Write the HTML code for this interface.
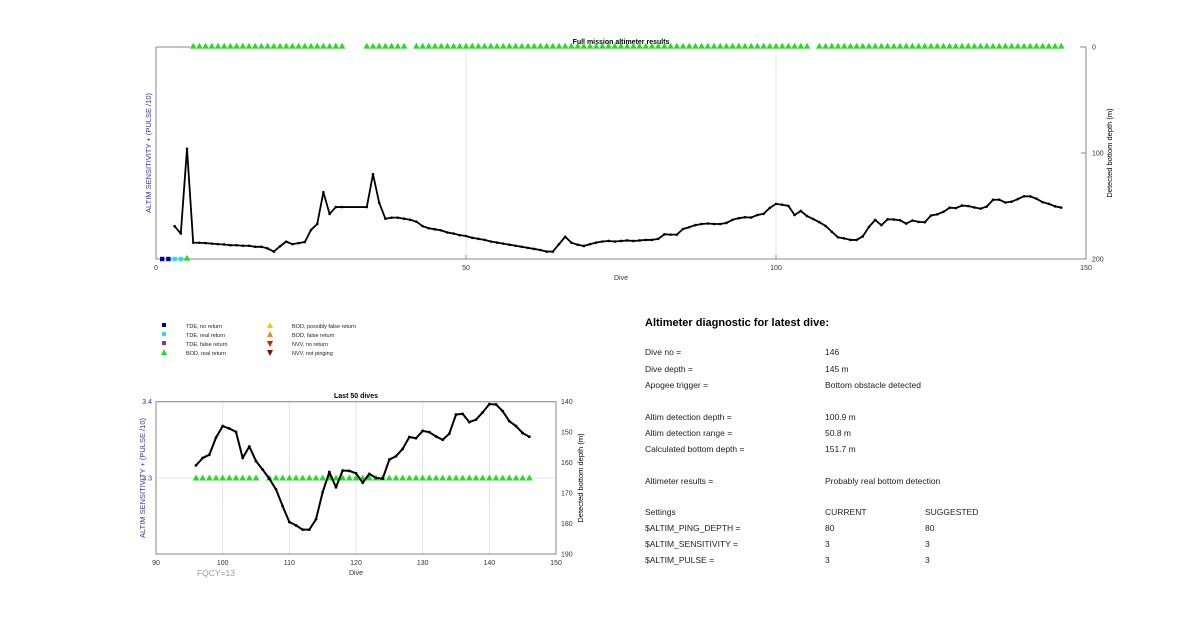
<!DOCTYPE html>
<html><head><meta charset="utf-8"><style>
body{margin:0;background:#fff;font-family:"Liberation Sans",Arial,sans-serif}
svg text{font-family:"Liberation Sans",Arial,sans-serif}
</style></head><body>
<svg id="s" width="1200" height="622" viewBox="0 0 1200 622" xmlns="http://www.w3.org/2000/svg">
<rect width="1200" height="622" fill="#fff"/>
<g id="topg">
  <text x="621" y="44" font-size="7" font-weight="bold" text-anchor="middle">Full mission altimeter results</text>
  <text transform="translate(151,153) rotate(-90)" font-size="7.5" fill="#3333aa" text-anchor="middle">ALTIM SENSITIVITY + (PULSE /10)</text>
  <text transform="translate(1112,153) rotate(-90)" font-size="7.5" text-anchor="middle">Detected bottom depth (m)</text>
  <text x="621" y="280" font-size="7" fill="#333" text-anchor="middle">Dive</text>
</g>
<g id="botg">
  <text x="356" y="398" font-size="7" font-weight="bold" text-anchor="middle">Last 50 dives</text>
  <text transform="translate(145,478) rotate(-90)" font-size="7.5" fill="#3333aa" text-anchor="middle">ALTIM SENSITIVITY + (PULSE /10)</text>
  <text transform="translate(583,478) rotate(-90)" font-size="7.5" text-anchor="middle">Detected bottom depth (m)</text>
  <text x="356" y="575" font-size="7" fill="#333" text-anchor="middle">Dive</text>
  <text x="216" y="576" font-size="8.5" fill="#999" text-anchor="middle">FQCY=13</text>
</g>
<g font-size="5.5" fill="#222">
  <rect x="162" y="323" width="4" height="4" fill="#0000b0"/>
  <text x="186" y="328">TDE, no return</text>
  <rect x="162" y="332" width="4" height="4" fill="#33dddd"/>
  <text x="186" y="337">TDE, real return</text>
  <rect x="162" y="341" width="4" height="4" fill="#7733bb"/>
  <text x="186" y="346">TDE, false return</text>
  <polygon points="164,349 161,355 167,355" fill="#22dd22"/>
  <text x="186" y="355">BOD, real return</text>
  <polygon points="270,322 267,328 273,328" fill="#eecc00"/>
  <text x="292" y="328">BOD, possibly false return</text>
  <polygon points="270,331 267,337 273,337" fill="#e09020"/>
  <text x="292" y="337">BOD, false return</text>
  <polygon points="267,341 273,341 270,347" fill="#cc2200"/>
  <text x="292" y="346">NVV, no return</text>
  <polygon points="267,350 273,350 270,356" fill="#771100"/>
  <text x="292" y="355">NVV, not pinging</text>
</g>
<g font-size="8.5" fill="#222">
  <text x="645" y="326" font-size="11" font-weight="bold" fill="#000">Altimeter diagnostic for latest dive:</text>
  <text x="645" y="355">Dive no =</text><text x="825" y="355">146</text>
  <text x="645" y="372">Dive depth =</text><text x="825" y="372">145 m</text>
  <text x="645" y="388">Apogee trigger =</text><text x="825" y="388">Bottom obstacle detected</text>
  <text x="645" y="420">Altim detection depth =</text><text x="825" y="420">100.9 m</text>
  <text x="645" y="436">Altim detection range =</text><text x="825" y="436">50.8 m</text>
  <text x="645" y="452">Calculated bottom depth =</text><text x="825" y="452">151.7 m</text>
  <text x="645" y="484">Altimeter results =</text><text x="825" y="484">Probably real bottom detection</text>
  <text x="645" y="515">Settings</text><text x="825" y="515">CURRENT</text><text x="925" y="515">SUGGESTED</text>
  <text x="645" y="531">$ALTIM_PING_DEPTH =</text><text x="825" y="531">80</text><text x="925" y="531">80</text>
  <text x="645" y="547">$ALTIM_SENSITIVITY =</text><text x="825" y="547">3</text><text x="925" y="547">3</text>
  <text x="645" y="563">$ALTIM_PULSE =</text><text x="825" y="563">3</text><text x="925" y="563">3</text>
</g>
</svg>
<script>
const dives = [3,4,5,6,7,8,9,10,11,12,13,14,15,16,17,18,19,20,21,22,23,24,25,26,27,28,29,30,34,35,36,37,38,39,40,41,42,43,44,45,46,47,48,49,50,51,52,53,54,55,56,57,58,59,60,61,62,63,64,65,66,67,68,69,70,71,72,73,74,75,76,77,78,79,80,81,82,83,84,85,86,87,88,89,90,91,92,93,94,95,96,97,98,99,100,101,102,103,104,105,106,107,108,109,110,111,112,113,114,115,116,117,118,119,120,121,122,123,124,125,126,127,128,129,130,131,132,133,134,135,136,137,138,139,140,141,142,143,144,145,146];
const depths = [169,176,96,184.6,184.7,185,185.5,186,186.3,187,187,187.5,187.5,188.5,188.5,190,193,188,183.6,186,185,184,172.6,167,137,157.5,151,151,151,120,147,162,161,161,162,163,164.8,169,171,172,173,175,176,177.5,178.3,180,181,182,183.5,184.5,185.5,186.5,187.5,188.5,189.5,190.5,191.5,193,193,186,179,184.6,186.5,187.7,186,184.5,183.5,183,183.5,183,182.5,183,182.5,182,182,181,176.7,177,177,171.7,170,168,167,166.5,167,167,166,163,161.5,160.6,160.9,158.5,157.4,151.8,148,148.8,149.9,158.5,154.7,159.5,162.3,165.3,168.8,174.3,179.5,180.6,182,182,178.6,169.7,163.1,168.1,162.6,162.7,163.5,166.6,163.7,165,165.3,159,157.9,155.5,151.6,152,149.6,150,151.4,152.5,150.5,144.2,144,146.7,145.9,143.5,140.8,140.9,143.1,146.4,148,150.3,151.5];
const bodDives = [];
for (let d=6; d<=30; d++) bodDives.push(d);
for (let d=34; d<=40; d++) bodDives.push(d);
for (let d=42; d<=105; d++) bodDives.push(d);
for (let d=107; d<=146; d++) bodDives.push(d);
const tdeNoReturn = [1,2];
const tdeRealReturn = [3,4];
const bodAtBottom = [5];
const topXTicks = [0,50,100,150];
const topYTicks = [0,100,200];
const botXTicks = [90,100,110,120,130,140,150];
const botYTicks = [140,150,160,170,180,190];
const botLeftTicks = [3.3,3.4];
const botSensitivity = 3.3;

const NS="http://www.w3.org/2000/svg";
const svgEl=document.getElementById('s');
function mk(tag,attrs,parent){const e=document.createElementNS(NS,tag);for(const k in attrs)e.setAttribute(k,attrs[k]);(parent||svgEl).appendChild(e);return e;}

const tx=d=>156+(d-0)*(1086-156)/150;
const ty=v=>47+v*(259-47)/200;
const topG=document.getElementById('topg');
topXTicks.forEach(t=>{
  if(t>0&&t<150){const g=mk('line',{x1:tx(t),x2:tx(t),y1:47,y2:259,stroke:'#e4e4e4','stroke-width':1},topG);
  
  }
  const tk=mk('line',{x1:tx(t),x2:tx(t),y1:259,y2:255,stroke:'#888'},topG);
  
  
  const l=mk('text',{x:tx(t),y:270,'font-size':7,'text-anchor':'middle',fill:'#333'},topG);l.textContent=t;
  
  
});
let ax=mk('path',{d:`M156,47 V259 H1086 V47 M1086,47 H1080 M156,47 H190`,stroke:'#888',fill:'none','stroke-width':1},topG);


topYTicks.forEach(t=>{
  const tk=mk('line',{x1:1086,x2:1081,y1:ty(t),y2:ty(t),stroke:'#888'},topG);
  
  
  const l=mk('text',{x:1092,y:ty(t)+2.5,'font-size':7,fill:'#333'},topG);l.textContent=t;
  
  
});
let p=mk('polyline',{points:dives.map((d,i)=>tx(d)+','+ty(depths[i])).join(' '),fill:'none',stroke:'#000','stroke-width':1.8,'stroke-linejoin':'round'},topG);


dives.forEach((d,i)=>{const c=mk('circle',{cx:tx(d),cy:ty(depths[i]),r:1.3,fill:'#000'},topG);
  
  });
function tri(x,y,s,fill,par){const pts=`${x},${y-s} ${x-s},${y+s*0.8} ${x+s},${y+s*0.8}`;return mk('polygon',{points:pts,fill},par);}
bodDives.forEach(d=>{const t=tri(tx(d),ty(0)-1,3.3,'#22dd22',topG);
  
  });
tdeNoReturn.forEach(d=>{const r=mk('rect',{x:tx(d)-2.2,y:ty(200)-2.2,width:4.4,height:4.4,fill:'#0000b0'},topG);
  
  });
tdeRealReturn.forEach(d=>{const r=mk('rect',{x:tx(d)-2.2,y:ty(200)-2.2,width:4.4,height:4.4,fill:'#33dddd'},topG);
  
  });
bodAtBottom.forEach(d=>{const t=tri(tx(d),ty(200)-1,3.3,'#22dd22',topG);
  
  });

const botG=document.getElementById('botg');
const bx=d=>156+(d-90)*(556-156)/60;
const by=v=>401.7+(v-140)*(554-401.7)/50;
const bl=v=>554-(v-3.2)*(554-401.7)/0.2;
botXTicks.forEach(t=>{
  if(t>90&&t<150){const g=mk('line',{x1:bx(t),x2:bx(t),y1:401.7,y2:554,stroke:'#e4e4e4'},botG);
  
  }
  const l=mk('text',{x:bx(t),y:565,'font-size':7,'text-anchor':'middle',fill:'#333'},botG);l.textContent=t;
  
  
});
botLeftTicks.forEach(t=>{
  const g=mk('line',{x1:156,x2:556,y1:bl(t),y2:bl(t),stroke:'#e4e4e4'},botG);
  
  
  const l=mk('text',{x:152,y:bl(t)+2.5,'font-size':7,'text-anchor':'end',fill:'#3333aa'},botG);l.textContent=t.toFixed(1);
  
  
});
ax=mk('rect',{x:156,y:401.7,width:400,height:152.3,fill:'none',stroke:'#888'},botG);


botYTicks.forEach(t=>{
  const l=mk('text',{x:561,y:by(t)+2.5,'font-size':7,fill:'#333'},botG);l.textContent=t;
  
  
});
bodDives.filter(d=>d>=96).forEach(d=>{const t=tri(bx(d),bl(botSensitivity),3.3,'#22dd22',botG);
  
  });
const li=dives.map((d,i)=>i).filter(i=>dives[i]>=96);
p=mk('polyline',{points:li.map(i=>bx(dives[i])+','+by(depths[i])).join(' '),fill:'none',stroke:'#000','stroke-width':2,'stroke-linejoin':'round'},botG);


li.forEach(i=>{const c=mk('circle',{cx:bx(dives[i]),cy:by(depths[i]),r:1.4,fill:'#000'},botG);
  
  });
</script>
</body></html>
